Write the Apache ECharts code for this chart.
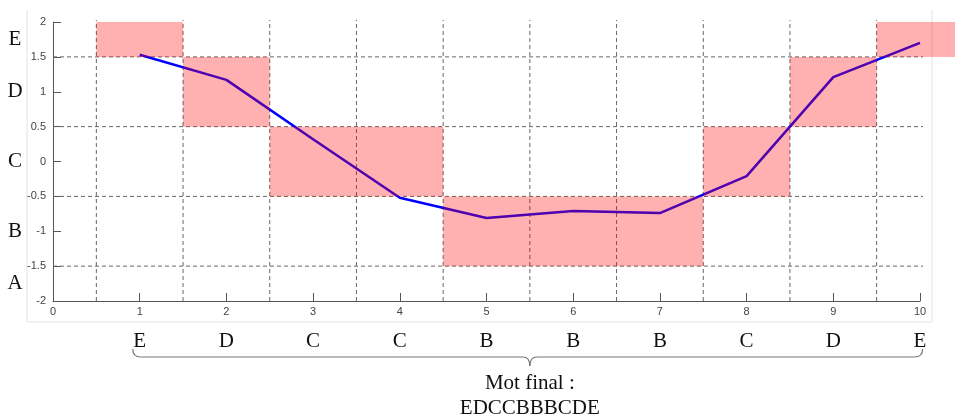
<!DOCTYPE html>
<html>
<head>
<meta charset="utf-8">
<script src="https://cdn.jsdelivr.net/npm/echarts@6/dist/echarts.min.js"></script>
<style>
html,body{margin:0;padding:0;background:#fff;}
#c{width:955px;height:418px;}
</style>
</head>
<body>
<div id="c"></div>
<script>
// ---- data ----
var xValues = [1, 2, 3, 4, 5, 6, 7, 8, 9, 10];
var yValues = [1.53, 1.17, 0.32, -0.52, -0.81, -0.71, -0.74, -0.21, 1.21, 1.70];
var symbols = ['E', 'D', 'C', 'C', 'B', 'B', 'B', 'C', 'D', 'E'];
var bandNames = ['A', 'B', 'C', 'D', 'E'];
var bandLow = [-2, -1.5, -0.5, 0.5, 1.5];
var bandHigh = [-1.5, -0.5, 0.5, 1.5, 2];
var bandCenter = [-1.75, -1, 0, 1, 1.75];
var hLines = [-1.5, -0.5, 0.5, 1.5];
var vLines = [0.5, 1.5, 2.5, 3.5, 4.5, 5.5, 6.5, 7.5, 8.5, 9.5];
var captionLabel = 'Mot final :';

var chart = echarts.init(document.getElementById('c'), null, {renderer: 'canvas'});
var serif = '"Liberation Serif", "DejaVu Serif", serif';
var sans = '"Liberation Sans", Arial, sans-serif';

var rectData = xValues.map(function (x, i) {
  var b = bandNames.indexOf(symbols[i]);
  return [x, bandLow[b], bandHigh[b]];
});
var lineSegs = hLines.map(function (y) { return ['h', y]; })
  .concat(vLines.map(function (x) { return ['v', x]; }));
var bottomLetters = xValues.map(function (x, i) { return [x, symbols[i]]; });
var sideLetters = bandNames.map(function (n, i) { return [bandCenter[i], n]; });

var option = {
  animation: false,
  backgroundColor: '#fff',
  grid: {left: 53, right: 35, top: 22, bottom: 117, containLabel: false},
  xAxis: {
    type: 'value', min: 0, max: 10, interval: 1,
    axisLine: {onZero: false, lineStyle: {color: '#555', width: 1}},
    axisTick: {inside: true, length: 8, lineStyle: {color: '#555'}},
    axisLabel: {color: '#444', fontFamily: sans, fontSize: 11, margin: 5},
    splitLine: {show: false}
  },
  yAxis: {
    type: 'value', min: -2, max: 2, interval: 0.5,
    axisLine: {show: true, onZero: false, lineStyle: {color: '#555', width: 1}},
    axisTick: {show: true, inside: true, length: 8, lineStyle: {color: '#555'}},
    axisLabel: {color: '#444', fontFamily: sans, fontSize: 11, margin: 7},
    splitLine: {show: false}
  },
  series: [
    {
      type: 'custom', z: 1, silent: true, clip: false,
      data: lineSegs,
      renderItem: function (params, api) {
        var kind = lineSegs[params.dataIndex][0];
        var v = lineSegs[params.dataIndex][1];
        var p1, p2;
        if (kind === 'h') { p1 = api.coord([0, v]); p2 = api.coord([10, v]); p2[0] += 3; }
        else { p1 = api.coord([v, -2]); p2 = api.coord([v, 2]); p2[1] -= 2; }
        return {type: 'line', shape: {x1: p1[0], y1: p1[1], x2: p2[0], y2: p2[1]},
          style: {stroke: '#666', lineWidth: 1, lineDash: [4, 3]}};
      }
    },
    {
      type: 'line', z: 2, symbol: 'none', silent: true,
      data: xValues.map(function (x, i) { return [x, yValues[i]]; }),
      lineStyle: {color: '#0000ff', width: 2.5}
    },
    {
      type: 'custom', z: 3, silent: true, clip: false,
      data: rectData,
      renderItem: function (params, api) {
        var d = rectData[params.dataIndex];
        var a = api.coord([d[0] - 0.5, d[2]]);
        var b = api.coord([d[0] + 0.5, d[1]]);
        return {type: 'rect', shape: {x: a[0], y: a[1], width: b[0] - a[0], height: b[1] - a[1]},
          style: {fill: 'rgba(255,0,0,0.31)'}};
      }
    },
    {
      type: 'custom', z: 4, silent: true, clip: false,
      data: bottomLetters,
      renderItem: function (params, api) {
        var d = bottomLetters[params.dataIndex];
        var p = api.coord([d[0], -2]);
        return {type: 'text', x: p[0], y: p[1] + 40,
          style: {text: d[1], font: '21px ' + serif, fill: '#111', align: 'center', verticalAlign: 'middle'}};
      }
    },
    {
      type: 'custom', z: 4, silent: true, clip: false,
      data: sideLetters,
      renderItem: function (params, api) {
        var d = sideLetters[params.dataIndex];
        var p = api.coord([0, d[0]]);
        return {type: 'text', x: p[0] - 38, y: p[1],
          style: {text: d[1], font: '21px ' + serif, fill: '#111', align: 'center', verticalAlign: 'middle'}};
      }
    }
  ]
};
chart.setOption(option);

// decorations: frame, brace, caption
var L = chart.convertToPixel({gridIndex: 0}, [0.92, -2]);
var R = chart.convertToPixel({gridIndex: 0}, [10.03, -2]);
var M = chart.convertToPixel({gridIndex: 0}, [5.5, -2]);
var yb = L[1] + 56;
var braceStyle = {stroke: '#777', lineWidth: 1.2, fill: null};
function bez(x1, y1, cx, cy, x2, y2) {
  return {type: 'bezierCurve', silent: true,
    shape: {x1: x1, y1: y1, x2: x2, y2: y2, cpx1: cx, cpy1: cy},
    style: braceStyle};
}
function seg(x1, y1, x2, y2, color) {
  return {type: 'line', silent: true, shape: {x1: x1, y1: y1, x2: x2, y2: y2},
    style: {stroke: color || '#777', lineWidth: color ? 1 : 1.2}};
}

chart.setOption({
  graphic: [
    seg(27, 10, 27, 322, '#e2e2e2'),
    seg(27, 322, 932, 322, '#e2e2e2'),
    seg(932, 10, 932, 322, '#e2e2e2'),
    bez(L[0], yb - 8, L[0], yb, L[0] + 8, yb),
    seg(L[0] + 8, yb, M[0] - 7, yb),
    bez(M[0] - 7, yb, M[0], yb, M[0], yb + 9),
    bez(M[0], yb + 9, M[0], yb, M[0] + 7, yb),
    seg(M[0] + 7, yb, R[0] - 8, yb),
    bez(R[0] - 8, yb, R[0], yb, R[0], yb - 8),
    {type: 'text', silent: true, x: M[0], y: yb + 26,
      style: {text: captionLabel, font: '21px ' + serif, fill: '#111', align: 'center', verticalAlign: 'middle'}},
    {type: 'text', silent: true, x: M[0], y: yb + 51,
      style: {text: symbols.join(''), font: '21px ' + serif, fill: '#111', align: 'center', verticalAlign: 'middle'}}
  ]
});
</script>
</body>
</html>
